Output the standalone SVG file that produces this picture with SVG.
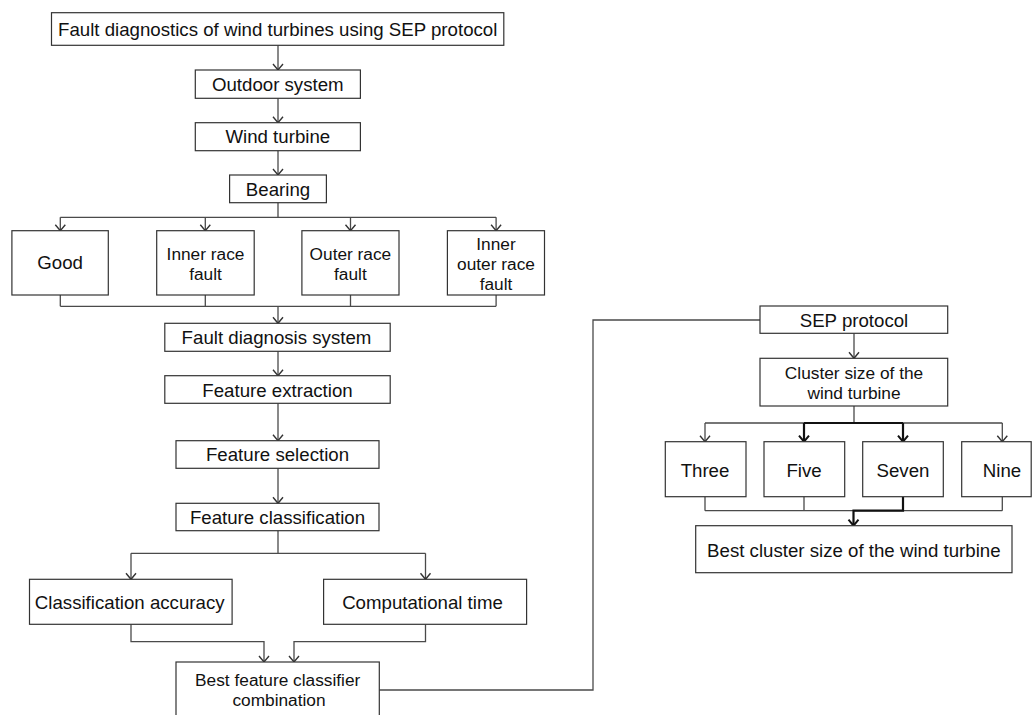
<svg xmlns="http://www.w3.org/2000/svg" width="1032" height="715" viewBox="0 0 1032 715">
<style>
rect.box{fill:#fff;stroke:#333;stroke-width:1.2}
text{font-family:"Liberation Sans",Arial,sans-serif;font-size:18.67px;fill:#111;text-anchor:middle;dominant-baseline:central}
text.m{font-size:17.3px}
.c{fill:none;stroke:#4a4a4a;stroke-width:1.3}
.b{fill:none;stroke:#111;stroke-width:2.2}
</style>
<defs>
<marker id="ar" markerUnits="userSpaceOnUse" viewBox="-8 -7 10 14" markerWidth="10" markerHeight="14" refX="0" refY="0" orient="auto">
<path d="M-6,-5 L0,0 L-6,5" fill="none" stroke="#333" stroke-width="1.4"/>
</marker>
<marker id="arb" markerUnits="userSpaceOnUse" viewBox="-8 -7 10 14" markerWidth="10" markerHeight="14" refX="0" refY="0" orient="auto">
<path d="M-6,-5 L0,0 L-6,5" fill="none" stroke="#111" stroke-width="2"/>
</marker>
</defs>
<rect width="1032" height="715" fill="#fff"/>
<g id="connectors">
<path class="c" d="M278,45.3V70" marker-end="url(#ar)"/>
<path class="c" d="M278,98.3V122.7" marker-end="url(#ar)"/>
<path class="c" d="M278,150.7V175" marker-end="url(#ar)"/>
<path class="c" d="M278,202.7V217.3M60.3,217.3H496.1"/>
<path class="c" d="M60.3,217.3V230.7" marker-end="url(#ar)"/>
<path class="c" d="M205.3,217.3V230.7" marker-end="url(#ar)"/>
<path class="c" d="M350.5,217.3V230.7" marker-end="url(#ar)"/>
<path class="c" d="M496.1,217.3V230.7" marker-end="url(#ar)"/>
<path class="c" d="M60.3,295V306.3M205.3,295V306.3M350.5,295V306.3M496.1,295V306.3M60.3,306.3H496.1"/>
<path class="c" d="M278,306.3V323.3" marker-end="url(#ar)"/>
<path class="c" d="M278,351.3V375.7" marker-end="url(#ar)"/>
<path class="c" d="M278,403.3V440.7" marker-end="url(#ar)"/>
<path class="c" d="M278,468.3V503.3" marker-end="url(#ar)"/>
<path class="c" d="M278,530.7V553.3M131,553.3H425.5"/>
<path class="c" d="M131,553.3V579.3" marker-end="url(#ar)"/>
<path class="c" d="M425.5,553.3V579.3" marker-end="url(#ar)"/>
<path class="c" d="M131,624.3V641.7H264V662" marker-end="url(#ar)"/>
<path class="c" d="M425.5,624.3V641.7H294V662" marker-end="url(#ar)"/>
<path class="c" d="M379,690H593V320H760"/>
<path class="c" d="M854,333.3V358.3" marker-end="url(#ar)"/>
<path class="c" d="M854,406V423M705,423H1002.3"/>
<path class="c" d="M705,423V441.7" marker-end="url(#ar)"/>
<path class="c" d="M1002.3,423V441.7" marker-end="url(#ar)"/>
<path class="b" d="M804,423H903"/>
<path class="b" d="M804,423V441.7" marker-end="url(#arb)"/>
<path class="b" d="M903,423V441.7" marker-end="url(#arb)"/>
<path class="c" d="M705,496.7V510.7M804,496.7V510.7M1002.3,496.7V510.7M705,510.7H1002.3"/>
<path class="b" d="M903,496.7V510.7H853.5V525.7" marker-end="url(#arb)"/>
</g>
<g id="title"><rect class="box" x="51.5" y="12.7" width="452.3" height="32.6"/><text x="277.7" y="29">Fault diagnostics of wind turbines using SEP protocol</text></g>
<g id="outdoor"><rect class="box" x="195.3" y="70" width="165.1" height="28.3"/><text x="277.8" y="84.5">Outdoor system</text></g>
<g id="windturbine"><rect class="box" x="195.3" y="122.7" width="165.1" height="28"/><text x="277.8" y="136.7">Wind turbine</text></g>
<g id="bearing"><rect class="box" x="229.6" y="175" width="96.8" height="27.7"/><text x="278" y="189.2">Bearing</text></g>
<g id="good"><rect class="box" x="11.9" y="230.7" width="96.4" height="64.3"/><text x="60.1" y="262.8">Good</text></g>
<g id="inner"><rect class="box" x="156.7" y="230.7" width="97.5" height="64.3"/><text class="m" x="205.5" y="253.5">Inner race</text><text class="m" x="205.5" y="273.5">fault</text></g>
<g id="outer"><rect class="box" x="301.9" y="230.7" width="97.1" height="64.3"/><text class="m" x="350.4" y="253.5">Outer race</text><text class="m" x="350.4" y="273.5">fault</text></g>
<g id="innerouter"><rect class="box" x="447.4" y="230.7" width="97.1" height="64.3"/><text class="m" x="496" y="243.5">Inner</text><text class="m" x="496" y="263.5">outer race</text><text class="m" x="496" y="283.5">fault</text></g>
<g id="fds"><rect class="box" x="164.8" y="323.3" width="225.4" height="28"/><text x="276.5" y="337.8">Fault diagnosis system</text></g>
<g id="fe"><rect class="box" x="164.8" y="375.7" width="225.4" height="27.6"/><text x="277.5" y="390">Feature extraction</text></g>
<g id="fs"><rect class="box" x="176" y="440.7" width="203" height="27.6"/><text x="277.5" y="454.8">Feature selection</text></g>
<g id="fc"><rect class="box" x="176" y="503.3" width="203" height="27.4"/><text x="277.5" y="517.2">Feature classification</text></g>
<g id="ca"><rect class="box" x="29.5" y="579.3" width="202.6" height="45"/><text x="129.7" y="602.5">Classification accuracy</text></g>
<g id="ct"><rect class="box" x="323.6" y="579.3" width="203" height="45"/><text x="422.5" y="602.5">Computational time</text></g>
<g id="best"><rect class="box" x="176" y="662" width="203.3" height="70"/><text class="m" x="277.7" y="680">Best feature classifier</text><text class="m" x="279" y="700">combination</text></g>
<g id="sep"><rect class="box" x="760" y="306" width="187.7" height="27.3"/><text x="854" y="320">SEP protocol</text></g>
<g id="cluster"><rect class="box" x="760" y="358.3" width="187.7" height="47.7"/><text class="m" x="854" y="372.5">Cluster size of the</text><text class="m" x="854" y="392.5">wind turbine</text></g>
<g id="three"><rect class="box" x="665.3" y="441.7" width="80.7" height="55"/><text x="705" y="470">Three</text></g>
<g id="five"><rect class="box" x="764" y="441.7" width="80.7" height="55"/><text x="804" y="470">Five</text></g>
<g id="seven"><rect class="box" x="862.7" y="441.7" width="80.6" height="55"/><text x="903" y="470">Seven</text></g>
<g id="nine"><rect class="box" x="961.7" y="441.7" width="69.5" height="55"/><text x="1002" y="470">Nine</text></g>
<g id="bestcluster"><rect class="box" x="695.7" y="525.7" width="316.3" height="47"/><text x="853.8" y="550">Best cluster size of the wind turbine</text></g>
</svg>
